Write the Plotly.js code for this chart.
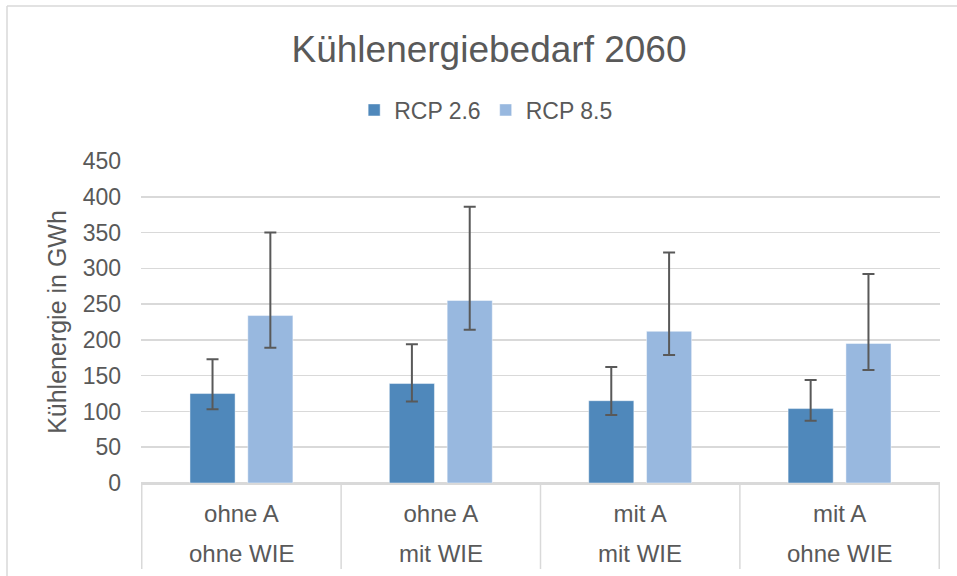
<!DOCTYPE html>
<html>
<head>
<meta charset="utf-8">
<script src="https://cdn.plot.ly/plotly-3.0.1.min.js"></script>
<style>html,body{margin:0;padding:0;background:#fff;}#chart{width:957px;height:576px;}</style>
</head>
<body>
<div id="chart"></div>
<script>
// ---- data ----
const categoryKeys = ["ohne A | ohne WIE", "ohne A | mit WIE", "mit A | mit WIE", "mit A | ohne WIE"];
const innerLabels = ["ohne A", "ohne A", "mit A", "mit A"];
const outerLabels = ["ohne WIE", "mit WIE", "mit WIE", "ohne WIE"];

const seriesNames = ["RCP 2.6", "RCP 8.5"];
const rcp26 = [125, 139, 115, 104];
const rcp26Upper = [173, 194, 162, 144];
const rcp26Lower = [103, 114, 95, 87];
const rcp85 = [234, 255, 212, 195];
const rcp85Upper = [350, 386, 322, 292];
const rcp85Lower = [189, 214, 179, 158];

const yTickVals = [0, 50, 100, 150, 200, 250, 300, 350, 400, 450];

// ---- styling ----
const textColor = "#595959";
const gridColor = "#d9d9d9";
const fontFamily = "'Liberation Sans', Arial, sans-serif";

function plusArr(v, up) { return v.map((x, i) => up[i] - x); }
function minusArr(v, lo) { return v.map((x, i) => x - lo[i]); }

const traces = [
  {
    type: "bar", name: seriesNames[0], x: categoryKeys, y: rcp26,
    marker: { color: "#4f88bb", line: { color: "rgba(255,255,255,0.45)", width: 1 } },
    error_y: { type: "data", symmetric: false, array: plusArr(rcp26, rcp26Upper),
               arrayminus: minusArr(rcp26, rcp26Lower), color: "#595959", thickness: 2, width: 6 },
    hoverinfo: "skip"
  },
  {
    type: "bar", name: seriesNames[1], x: categoryKeys, y: rcp85,
    marker: { color: "#98b8df", line: { color: "rgba(255,255,255,0.45)", width: 1 } },
    error_y: { type: "data", symmetric: false, array: plusArr(rcp85, rcp85Upper),
               arrayminus: minusArr(rcp85, rcp85Lower), color: "#595959", thickness: 2, width: 6 },
    hoverinfo: "skip"
  }
];

// plot area: x 141..940, y 161..483
const plotTop = 161, plotBottom = 483, plotLeft = 141, plotRight = 940;
const plotH = plotBottom - plotTop, plotW = plotRight - plotLeft;
const py = (pix) => (plotBottom - pix) / plotH;   // pixel row -> paper y
const px = (pix) => (pix - plotLeft) / plotW;     // pixel col -> paper x

const shapes = [];
// category dividers at boundaries
for (let i = 0; i <= categoryKeys.length; i++) {
  shapes.push({ type: "line", xref: "x", yref: "paper", x0: i - 0.5, x1: i - 0.5,
    y0: 0, y1: py(569), line: { color: gridColor, width: 1.5 } });
}
// chart frame (top and left edges)
shapes.push({ type: "line", xref: "paper", yref: "paper", x0: px(7), x1: px(960), y0: py(6), y1: py(6),
  line: { color: gridColor, width: 1.5 } });
shapes.push({ type: "line", xref: "paper", yref: "paper", x0: px(7), x1: px(7), y0: py(6), y1: py(580),
  line: { color: gridColor, width: 1.5 } });

const annotations = categoryKeys.map((k, i) => ({
  x: k, xref: "x", y: py(553), yref: "paper", text: outerLabels[i], showarrow: false,
  xanchor: "center", yanchor: "middle", font: { family: fontFamily, size: 24, color: textColor }
}));

const layout = {
  width: 957, height: 576,
  margin: { l: plotLeft, r: 957 - plotRight, t: plotTop, b: 576 - plotBottom, pad: 0 },
  paper_bgcolor: "#ffffff", plot_bgcolor: "#ffffff",
  font: { family: fontFamily, color: textColor },
  title: { text: "Kühlenergiebedarf 2060", font: { family: fontFamily, size: 37, color: textColor },
           x: 0.511, xref: "container", xanchor: "center", y: 1 - 49 / 576, yref: "container", yanchor: "middle" },
  showlegend: true,
  legend: { orientation: "h", x: 0.508, xref: "container", xanchor: "center",
            y: 1 - 110 / 576, yref: "container", yanchor: "middle",
            font: { family: fontFamily, size: 23, color: textColor }, traceorder: "normal", itemclick: false },
  barmode: "group", bargap: 0.42, bargroupgap: 0.22,
  xaxis: { type: "category", tickvals: categoryKeys, ticktext: innerLabels, ticks: "",
           tickfont: { family: fontFamily, size: 24, color: textColor }, ticklabelstandoff: 9,
           showline: true, linecolor: gridColor, linewidth: 1.5, showgrid: false, fixedrange: true },
  yaxis: { range: [0, 450], tickvals: yTickVals, ticks: "", showgrid: true, gridcolor: gridColor, gridwidth: 1.5,
           zeroline: true, zerolinecolor: gridColor, zerolinewidth: 1.5,
           tickfont: { family: fontFamily, size: 23, color: textColor }, ticklabelstandoff: 19,
           title: { text: "Kühlenergie in GWh", font: { family: fontFamily, size: 25, color: textColor }, standoff: 8 },
           showline: false, fixedrange: true },
  shapes: shapes,
  annotations: annotations
};

Plotly.newPlot("chart", traces, layout, { staticPlot: true, displayModeBar: false });
</script>
</body>
</html>
